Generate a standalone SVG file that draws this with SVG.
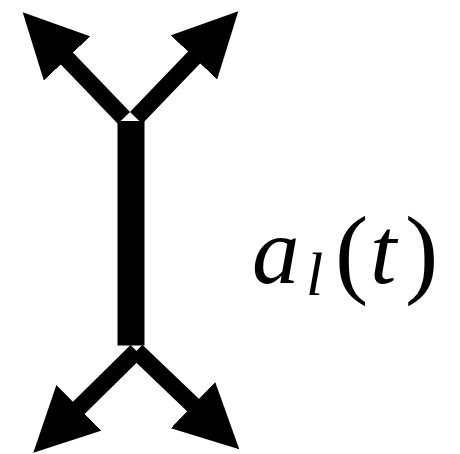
<svg xmlns="http://www.w3.org/2000/svg" width="460" height="454" viewBox="0 0 460 454">
  <style>
    .arrow { fill: none; stroke: #000; stroke-width: 17; stroke-linecap: butt; marker-end: url(#head); }
    .bar { fill: #000; }
    .lbl { font-family: "Liberation Serif", "DejaVu Serif", serif; fill: #000; }
    .it { font-style: italic; }
  </style>
  <defs>
    <marker id="head" markerUnits="userSpaceOnUse" viewBox="0 -32 64 64" markerWidth="64" markerHeight="64" refX="1" refY="0" orient="auto">
      <path d="M0,-32 L64,0 L0,32 z" fill="#000"/>
    </marker>
  </defs>
  <rect width="460" height="454" fill="#fff"/>
  <g id="connectors">
    <path class="arrow" d="M123.9,117.9 L66.29,57.79"/>
    <path class="arrow" d="M136.1,117.9 L194.7,56.77"/>
    <path class="arrow" d="M136.5,351 L78.15,408.56"/>
    <path class="arrow" d="M136.5,351 L193.76,405.76"/>
  </g>
  <g id="bar">
    <rect class="bar" x="117.5" y="121" width="27" height="224.5"/>
  </g>
  <g id="label" class="lbl">
    <text x="252" y="283" font-size="95" class="it">a</text>
    <text x="306" y="295" font-size="62" class="it">l</text>
    <text x="335" y="285" font-size="100">(</text>
    <text x="370" y="283" font-size="95" class="it">t</text>
    <text x="405" y="285" font-size="100">)</text>
  </g>
</svg>
